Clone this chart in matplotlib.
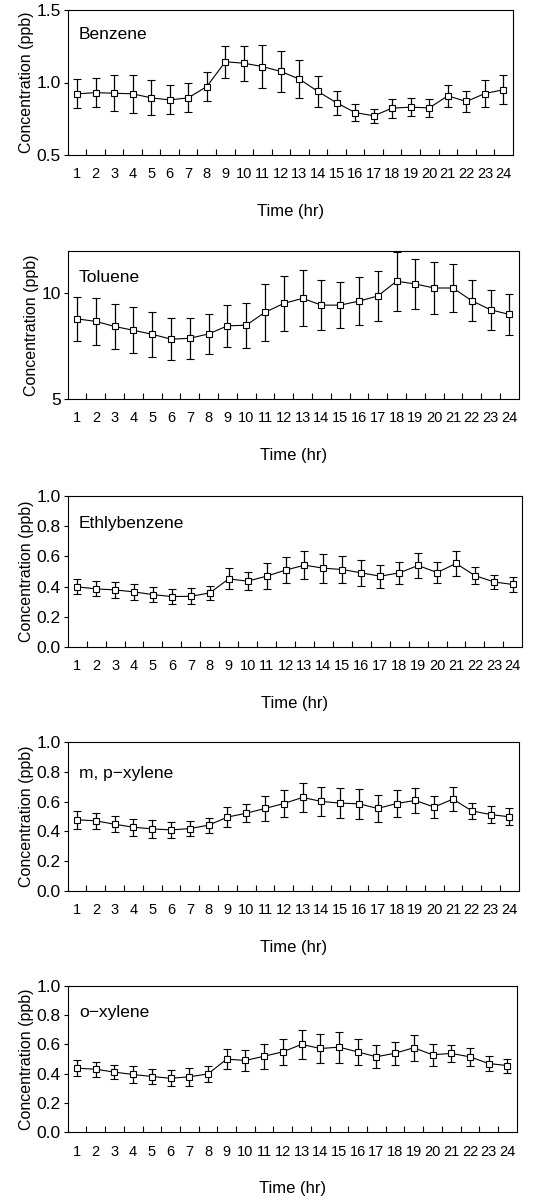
import matplotlib
matplotlib.use("Agg")
import matplotlib.pyplot as plt
import numpy as np

plt.rcParams['font.family'] = ['Liberation Sans', 'DejaVu Sans']

hours = list(range(1, 25))
hour_labels = [str(h) for h in hours]

benzene = [0.922, 0.93, 0.926, 0.922, 0.894, 0.88, 0.894, 0.972, 1.143, 1.133, 1.11, 1.076,
           1.023, 0.938, 0.86, 0.793, 0.77, 0.823, 0.83, 0.825, 0.908, 0.869, 0.924, 0.95]
benzene_err = [0.10, 0.10, 0.125, 0.13, 0.12, 0.10, 0.10, 0.10, 0.11, 0.12, 0.15, 0.14,
               0.13, 0.11, 0.083, 0.06, 0.05, 0.065, 0.06, 0.062, 0.074, 0.074, 0.09, 0.10]

toluene = [8.79, 8.67, 8.43, 8.25, 8.06, 7.83, 7.87, 8.08, 8.46, 8.49, 9.10, 9.52,
           9.76, 9.44, 9.44, 9.63, 9.87, 10.57, 10.44, 10.25, 10.25, 9.65, 9.22, 9.00]
toluene_err = [1.04, 1.10, 1.08, 1.08, 1.05, 1.00, 0.97, 0.96, 0.99, 1.06, 1.35, 1.31,
               1.33, 1.20, 1.08, 1.15, 1.17, 1.39, 1.17, 1.24, 1.12, 0.98, 0.95, 0.95]

ethylbenzene = [0.398, 0.385, 0.378, 0.365, 0.347, 0.334, 0.336, 0.358, 0.451, 0.436, 0.469, 0.509,
                0.542, 0.522, 0.513, 0.491, 0.469, 0.491, 0.540, 0.493, 0.553, 0.473, 0.431, 0.414]
ethylbenzene_err = [0.05, 0.05, 0.055, 0.055, 0.052, 0.05, 0.053, 0.048, 0.07, 0.058, 0.084, 0.085,
                    0.094, 0.095, 0.09, 0.085, 0.075, 0.074, 0.084, 0.068, 0.083, 0.054, 0.049, 0.048]

mpxylene = [0.478, 0.471, 0.448, 0.428, 0.417, 0.41, 0.419, 0.442, 0.496, 0.522, 0.554, 0.587,
            0.628, 0.601, 0.59, 0.585, 0.554, 0.587, 0.608, 0.563, 0.617, 0.538, 0.513, 0.498]
mpxylene_err = [0.06, 0.055, 0.055, 0.056, 0.058, 0.053, 0.052, 0.05, 0.065, 0.06, 0.084, 0.09,
                0.10, 0.095, 0.10, 0.10, 0.09, 0.088, 0.082, 0.073, 0.078, 0.055, 0.055, 0.058]

oxylene = [0.437, 0.43, 0.41, 0.394, 0.38, 0.368, 0.378, 0.398, 0.499, 0.49, 0.519, 0.549,
           0.60, 0.572, 0.581, 0.549, 0.515, 0.54, 0.577, 0.529, 0.538, 0.515, 0.469, 0.455]
oxylene_err = [0.056, 0.052, 0.05, 0.06, 0.053, 0.055, 0.06, 0.056, 0.07, 0.07, 0.085, 0.09,
               0.097, 0.10, 0.105, 0.09, 0.08, 0.078, 0.09, 0.076, 0.058, 0.06, 0.05, 0.048]

names = ["Benzene", "Toluene", "Ethlybenzene", "m, p\u2212xylene", "o\u2212xylene"]
series = [benzene, toluene, ethylbenzene, mpxylene, oxylene]
errors = [benzene_err, toluene_err, ethylbenzene_err, mpxylene_err, oxylene_err]
ylims = [(0.5, 1.5), (5, 12), (0.0, 1.0), (0.0, 1.0), (0.0, 1.0)]
yticks = [[0.5, 1.0, 1.5], [5, 10], [0.0, 0.2, 0.4, 0.6, 0.8, 1.0],
          [0.0, 0.2, 0.4, 0.6, 0.8, 1.0], [0.0, 0.2, 0.4, 0.6, 0.8, 1.0]]
yfmt = ["{:.1f}", "{:.0f}", "{:.1f}", "{:.1f}", "{:.1f}"]

W, H = 546, 1202
# (left px, top px, width px, height px)
boxes = [(67.7, 10, 445, 145), (67.7, 251, 451, 148), (67.7, 496, 454.6, 151),
         (67.7, 742, 451, 149), (67.7, 986, 449, 146)]
label_y = [0.83, 0.82, 0.82, 0.79, 0.82]

fig = plt.figure(figsize=(W / 100, H / 100), dpi=100)

for i in range(5):
    l, t, w, h = boxes[i]
    ax = fig.add_axes([l / W, 1 - (t + h) / H, w / W, h / H])
    ax.errorbar(hours, series[i], yerr=errors[i], color='black', lw=0.8,
                marker='s', markersize=5, markerfacecolor='white', markeredgecolor='black',
                markeredgewidth=0.8, ecolor='black', elinewidth=0.9, capsize=3, capthick=0.9)
    ax.set_xlim(0.5, 24.5)
    ax.set_ylim(*ylims[i])
    ax.set_yticks(yticks[i])
    ax.set_yticklabels([yfmt[i].format(v) for v in yticks[i]], fontsize=12.5)
    # inward ticks between hours, labels at hours without ticks
    ax.set_xticks(np.arange(1.5, 24.5, 1.0))
    ax.set_xticklabels([])
    ax.set_xticks(hours, minor=True)
    ax.set_xticklabels(hour_labels, minor=True, fontsize=10.5)
    ax.tick_params(axis='x', which='major', direction='in', length=4, width=0.8)
    ax.tick_params(axis='x', which='minor', length=0, pad=9)
    ax.tick_params(axis='y', direction='out', length=3, width=0.8, pad=2)
    for s in ax.spines.values():
        s.set_linewidth(0.8)
    ax.set_ylabel("Concentration (ppb)", fontsize=11.5, labelpad=2)
    ax.set_xlabel("Time (hr)", fontsize=12, labelpad=16)
    ax.text(0.025, label_y[i], names[i], transform=ax.transAxes, fontsize=12.5,
            ha='left', va='center')

fig.savefig("out.png", dpi=100)
